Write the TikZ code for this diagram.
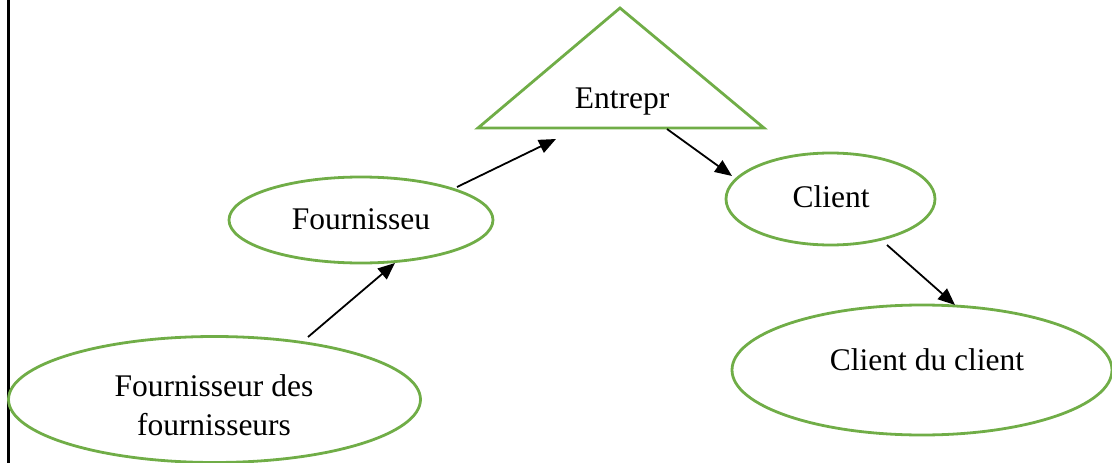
\documentclass[tikz,border=0pt]{standalone}
\usepackage{fontspec}
\setmainfont{Liberation Serif}
\usetikzlibrary{shapes.geometric,arrows.meta}
\definecolor{leaf}{HTML}{70AD47}
\tikzset{
  oval/.style={draw=leaf, line width=2.8pt, ellipse, inner sep=0pt},
  word/.style={anchor=base, inner sep=0pt, font=\fontsize{31.5}{39}\selectfont},
  flow/.style={line width=1.8pt, -{Triangle[length=17pt,width=14pt]}},
}
\begin{document}
\begin{tikzpicture}[x=1pt,y=-1pt]
\useasboundingbox (0,0) rectangle (1112,463);
% page margin rule
\draw[line width=3pt] (8,0) -- (8,463);

% company triangle
\draw[draw=leaf, line width=2.8pt, line join=miter] (620,8) -- (764,128) -- (478,128) -- cycle;
\node[word] (ent) at (622,108) {Entrepr};

% supply chain ellipses
\node[oval, minimum width=264pt, minimum height=86pt] (four) at (361,220) {};
\node[word] (tfour) at (361,229) {Fournisseu};

\node[oval, minimum width=412pt, minimum height=126pt] (ff) at (214.5,399.5) {};
\node[word] (tff1) at (214,396) {Fournisseur des};
\node[word] (tff2) at (214,435) {fournisseurs};

\node[oval, minimum width=209pt, minimum height=92pt] (cli) at (830.5,199) {};
\node[word] (tcli) at (831,207) {Client};

\node[oval, minimum width=380pt, minimum height=130pt] (cc) at (922,370) {};
\node[word] (tcc) at (927,370) {Client du client};

% arrow end points
\coordinate (a1s) at (308,337);
\coordinate (a1e) at (395,263);
\coordinate (a2s) at (457,187);
\coordinate (a2e) at (556,139);
\coordinate (a3s) at (667,129);
\coordinate (a3e) at (732,176);
\coordinate (a4s) at (887,245);
\coordinate (a4e) at (955,305);

\draw[flow] (a1s) -- (a1e);
\draw[flow] (a2s) -- (a2e);
\draw[flow] (a3s) -- (a3e);
\draw[flow] (a4s) -- (a4e);
\end{tikzpicture}
\end{document}
